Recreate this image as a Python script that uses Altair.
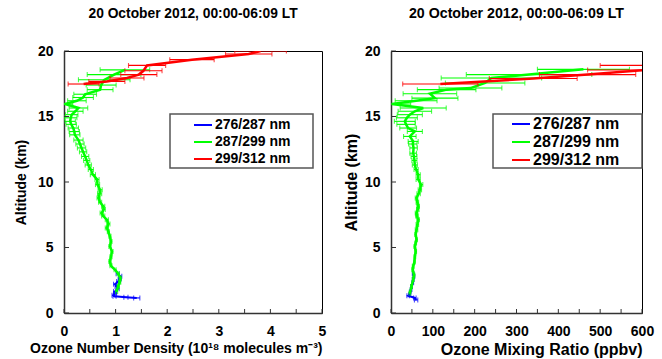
import altair as alt
import pandas as pd

SERIES = ["276/287 nm", "287/299 nm", "299/312 nm"]
COLORS = ["#0000ff", "#00ff00", "#ff0000"]
TITLE = "20 October 2012, 00:00-06:09 LT"

# ---------- Left panel: ozone number density (10^18 molecules m^-3) ----------
L_blue_alt = [1.15, 1.2, 1.27, 1.35, 1.5, 1.65, 1.85, 2.03, 2.2, 2.4, 2.6, 2.8, 3.0]
L_blue_val = [1.41, 1.2, 0.98, 0.96, 0.99, 0.99, 1.04, 1.02, 0.99, 1.05, 1.08, 1.09, 1.04]
L_blue_err = [0.06, 0.04, 0.03, 0.03, 0.03, 0.03, 0.03, 0.03, 0.03, 0.03, 0.03, 0.03, 0.03]

L_green_alt = [1.65, 2.03, 2.35, 2.67, 3.0, 3.3, 3.6, 3.94, 4.3, 4.7, 5.08, 5.45, 5.85, 6.2,
               6.49, 6.8, 7.12, 7.4, 7.63, 7.9, 8.14, 8.45, 8.78, 9.1, 9.4, 9.8, 10.2, 10.56,
               10.95, 11.3, 11.65, 11.95, 12.3, 12.6, 12.9, 13.2, 13.6, 13.85, 14.12, 14.4,
               14.63, 14.9, 15.14, 15.4, 15.65, 15.95, 16.2, 16.45, 16.7, 17.05, 17.4, 17.8,
               18.2, 18.56]
L_green_val = [1.02, 1.05, 1.08, 1.09, 1.05, 0.99, 0.91, 0.89, 0.91, 0.93, 0.89, 0.91, 0.89, 0.86,
               0.83, 0.86, 0.83, 0.76, 0.73, 0.77, 0.76, 0.70, 0.67, 0.69, 0.70, 0.65, 0.64, 0.56,
               0.52, 0.47, 0.44, 0.41, 0.37, 0.34, 0.31, 0.28, 0.21, 0.20, 0.18, 0.14,
               0.12, 0.13, 0.15, 0.22, 0.28, 0.02, 0.25, 0.37, 0.41, 0.70, 0.72, 0.78,
               0.97, 1.18]
L_green_err = [0.02, 0.02, 0.02, 0.02, 0.02, 0.02, 0.02, 0.02, 0.02, 0.02, 0.02, 0.02, 0.02, 0.02,
               0.03, 0.03, 0.03, 0.03, 0.03, 0.03, 0.03, 0.03, 0.03, 0.04, 0.04, 0.04, 0.04, 0.05,
               0.05, 0.06, 0.06, 0.07, 0.07, 0.08, 0.08, 0.09, 0.10, 0.10, 0.10, 0.10,
               0.10, 0.12, 0.12, 0.15, 0.18, 0.15, 0.18, 0.20, 0.22, 0.25, 0.29, 0.50,
               0.52, 0.48]

L_red_alt = [17.48, 17.68, 17.94, 18.2, 18.49, 18.9, 19.34, 19.77, 20.0]
L_red_val = [0.38, 0.83, 1.22, 1.45, 1.54, 1.61, 2.48, 3.58, 3.81]
L_red_err = [0.30, 0.35, 0.33, 0.35, 0.36, 0.36, 0.43, 0.45, 0.50]

# ---------- Right panel: ozone mixing ratio (ppbv) ----------
R_blue_alt = [1.0, 1.15, 1.32, 1.4, 1.6, 1.8, 2.03, 2.3, 2.55, 2.8, 3.0]
R_blue_val = [60, 57, 41, 44, 46, 48, 49, 52, 53, 55, 53]
R_blue_err = [4, 3, 3, 2, 2, 2, 2, 2, 2, 2, 2]

R_green_alt = [1.5, 2.03, 2.55, 2.9, 3.3, 3.56, 3.9, 4.3, 4.7, 5.08, 5.35, 5.6, 6.0, 6.36,
               6.75, 7.12, 7.4, 7.63, 7.9, 8.14, 8.45, 8.78, 9.1, 9.4, 9.8, 10.2, 10.56,
               10.95, 11.3, 11.65, 11.95, 12.2, 12.6, 12.9, 13.1, 13.48, 13.86, 14.12, 14.4,
               14.63, 14.9, 15.14, 15.4, 15.65, 15.95, 16.2, 16.4, 16.74, 17.05, 17.17,
               17.56, 17.94, 18.2, 18.6]
R_green_val = [45, 49, 53, 55, 52, 53, 56, 57, 59, 57, 59, 61, 59, 61,
               63, 65, 62, 61, 64, 65, 63, 61, 66, 69, 72, 65, 65,
               60, 57, 56, 55, 53, 54, 52, 53, 45, 57, 41, 36,
               33, 38, 45, 57, 77, 2, 60, 105, 93, 133, 190,
               225, 240, 330, 460]
R_green_err = [2, 2, 2, 2, 2, 2, 2, 2, 2, 2, 2, 2, 2, 3,
               3, 3, 3, 3, 3, 3, 3, 3, 4, 4, 4, 5, 5,
               5, 6, 6, 7, 8, 9, 10, 12, 15, 18, 20, 22,
               25, 25, 30, 40, 55, 45, 50, 55, 64, 70, 75,
               95, 120, 150, 110]

R_red_alt = [17.48, 17.9, 18.2, 18.55, 18.9, 19.3, 20.0]
R_red_val = [118, 340, 470, 610, 720, 1000, 1500]
R_red_err = [90, 105, 115, 140, 220, 250, 300]

L_xticks = [0, 0.5, 1, 1.5, 2, 2.5, 3, 3.5, 4, 4.5, 5]
L_xlabels = [0, 1, 2, 3, 4, 5]
R_xticks = [0, 50, 100, 150, 200, 250, 300, 350, 400, 450, 500, 550, 600]
R_xlabels = [0, 100, 200, 300, 400, 500, 600]
Y_ticks = [0, 5, 10, 15, 20]

FONT = "Liberation Sans"
H = 262


def frame(alts, vals, errs, name):
    return pd.DataFrame({
        "alt": alts,
        "val": vals,
        "lo": [v - e for v, e in zip(vals, errs)],
        "hi": [v + e for v, e in zip(vals, errs)],
        "series": name,
    })


def panel(sets, xdomain, xticks, xlabels, width, xtitle, lx, ly, box, tfs, lfs,
          ytp, title_fs):
    xs = alt.Scale(domain=xdomain, nice=False, zero=False)
    ys = alt.Scale(domain=[0, 20], nice=False)
    xaxis = alt.Axis(title=xtitle, values=xlabels, tickSize=0, labelPadding=11,
                     titlePadding=3, titleAnchor="end", grid=False, labelFlush=False,
                     labelOverlap=False, titleFontSize=tfs)
    yaxis = alt.Axis(title="Altitude (km)", values=Y_ticks, tickSize=0, labelPadding=11,
                     titlePadding=ytp, grid=False, titleFontSize=tfs)
    X = lambda f: alt.X(f, type="quantitative", scale=xs, axis=xaxis)
    Y = lambda f: alt.Y(f, type="quantitative", scale=ys, axis=yaxis)
    layers = []
    for (df, color, lw) in sets:
        base = alt.Chart(df)
        layers.append(base.mark_rule(color=color, strokeWidth=1.1, clip=True).encode(
            x=X("lo"), x2="hi", y=Y("alt")))
        layers.append(base.mark_tick(color=color, orient="vertical", size=5, thickness=1.1,
                                     clip=True).encode(x=X("lo"), y=Y("alt")))
        layers.append(base.mark_tick(color=color, orient="vertical", size=5, thickness=1.1,
                                     clip=True).encode(x=X("hi"), y=Y("alt")))
        layers.append(base.mark_line(strokeWidth=lw, clip=True).encode(
            x=X("val"), y=Y("alt"), order=alt.Order("alt:Q"),
            color=alt.Color("series:N", scale=alt.Scale(domain=SERIES, range=COLORS),
                            legend=alt.Legend(orient="none", legendX=lx, legendY=ly,
                                              title=None, symbolType="stroke",
                                              symbolSize=324, symbolStrokeWidth=2,
                                              labelFont=FONT, labelFontWeight="bold",
                                              labelFontSize=lfs, labelColor="black",
                                              labelOffset=2, rowPadding=0, padding=0))))
    # legend box
    layers.append(alt.Chart(pd.DataFrame({"k": [0]})).mark_rect(
        fill="white", stroke="#555555", strokeWidth=1.5).encode(
        x=alt.value(box[0]), x2=alt.value(box[1]), y=alt.value(63), y2=alt.value(117)))
    # inward ticks
    tdf = pd.DataFrame({"t": xticks})
    layers.append(alt.Chart(tdf).mark_rule(color="#333333", strokeWidth=1).encode(
        x=X("t"), y=alt.value(H), y2=alt.value(H - 4)))
    ydf = pd.DataFrame({"t": Y_ticks})
    layers.append(alt.Chart(ydf).mark_rule(color="#333333", strokeWidth=1).encode(
        y=Y("t"), x=alt.value(0), x2=alt.value(5)))
    return alt.layer(*layers).properties(
        width=width, height=H,
        title=alt.TitleParams(TITLE, font=FONT, fontSize=title_fs, fontWeight="bold",
                              color="black", offset=23, anchor="middle"))


left = panel([(frame(L_blue_alt, L_blue_val, L_blue_err, SERIES[0]), COLORS[0], 2),
              (frame(L_green_alt, L_green_val, L_green_err, SERIES[1]), COLORS[1], 2.5),
              (frame(L_red_alt, L_red_val, L_red_err, SERIES[2]), COLORS[2], 2.5)],
             [0, 5], L_xticks, L_xlabels, 258,
             "Ozone Number Density (10¹⁸ molecules m⁻³)", 129, 64, (106, 249), 14, 14,
             9, 13.8)
right = panel([(frame(R_blue_alt, R_blue_val, R_blue_err, SERIES[0]), COLORS[0], 2),
               (frame(R_green_alt, R_green_val, R_green_err, SERIES[1]), COLORS[1], 2.5),
               (frame(R_red_alt, R_red_val, R_red_err, SERIES[2]), COLORS[2], 2.5)],
              [0, 600], R_xticks, R_xlabels, 251,
              "Ozone Mixing Ratio (ppbv)", 120, 63, (102, 251), 16, 16, 5, 14.2)

chart = alt.hconcat(left, right, spacing=69, bounds="flush").resolve_scale(
    x="independent", y="independent", color="independent"
).properties(
    padding={"left": 13, "top": 6, "right": 5, "bottom": 0}
).configure_view(
    stroke="black", strokeWidth=1
).configure_axis(
    labelFont=FONT, labelFontSize=14, labelFontWeight="bold", labelColor="black",
    titleFont=FONT, titleFontWeight="bold", titleColor="black",
    domainColor="#333333", domainWidth=1.5
)

chart.save("out.html", embed_options={"renderer": "svg", "actions": False})
